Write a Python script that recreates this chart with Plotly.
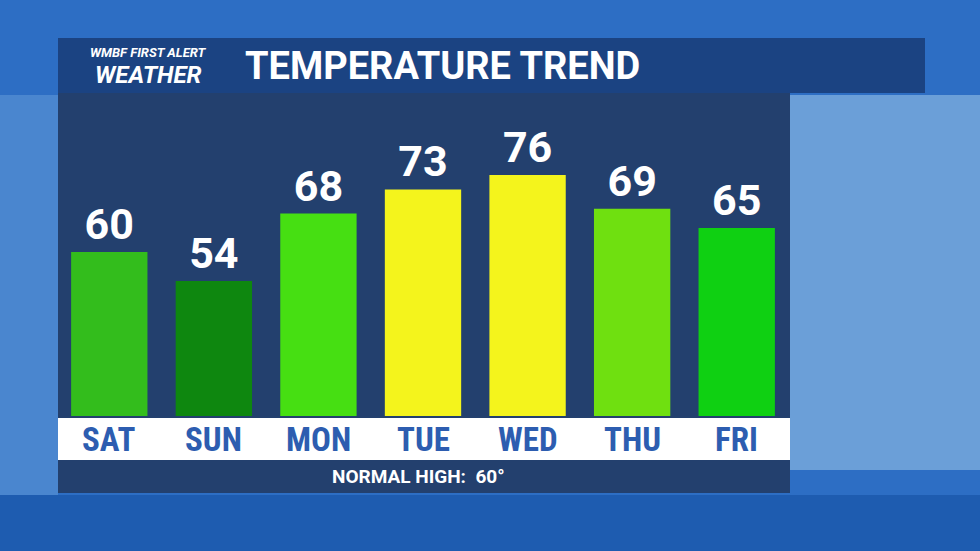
import plotly.graph_objects as go

days = ["SAT", "SUN", "MON", "TUE", "WED", "THU", "FRI"]
highs = [60, 54, 68, 73, 76, 69, 65]
bar_colors = ["#33bd1c", "#0e870f", "#46df12", "#f4f41c", "#f4f41c", "#6fe010", "#0fd012"]
normal_high = 60

W, H = 980, 551


def px_x(v):
    return v / W


def px_y(v):
    return 1 - v / H


fig = go.Figure()
fig.add_trace(go.Bar(
    x=days, y=highs, marker_color=bar_colors, marker_line_width=0, width=0.73,
    text=[f"<b>{v}</b>" for v in highs], textposition="outside", cliponaxis=False,
    textfont=dict(family="Roboto", size=43, color="white"),
))

shapes = [
    # background panels
    dict(type="rect", xref="paper", yref="paper", x0=0, x1=1, y0=0, y1=1,
         fillcolor="#2d6ec4", line_width=0, layer="below"),
    dict(type="rect", xref="paper", yref="paper", x0=0, x1=1, y0=px_y(551), y1=px_y(495),
         fillcolor="#1e5cb0", line_width=0, layer="below"),
    dict(type="rect", xref="paper", yref="paper", x0=px_x(790), x1=1, y0=px_y(470), y1=px_y(95),
         fillcolor="#6b9fd8", line_width=0, layer="below"),
    dict(type="rect", xref="paper", yref="paper", x0=0, x1=px_x(58), y0=px_y(495), y1=px_y(95),
         fillcolor="#4a86cf", line_width=0, layer="below"),
    # header
    dict(type="rect", xref="paper", yref="paper", x0=px_x(58), x1=px_x(925), y0=px_y(93), y1=px_y(38),
         fillcolor="#1b4382", line_width=0, layer="below"),
    # chart panel
    dict(type="rect", xref="paper", yref="paper", x0=px_x(58), x1=px_x(790), y0=px_y(493), y1=px_y(93),
         fillcolor="#23406e", line_width=0, layer="below"),
    # day label strip
    dict(type="rect", xref="paper", yref="paper", x0=px_x(58), x1=px_x(790), y0=px_y(460), y1=px_y(418),
         fillcolor="white", line_width=0, layer="below"),
]

annotations = [
    dict(x=d, y=px_y(440), xref="x", yref="paper", text=f"<b>{d}</b>", showarrow=False,
         xanchor="center", yanchor="middle",
         font=dict(family="Roboto Condensed, Roboto", size=33, color="#2d5db0"))
    for d in days
]
annotations += [
    dict(x=px_x(148), y=px_y(52), xref="paper", yref="paper", text="<b><i>WMBF FIRST ALERT</i></b>",
         xanchor="center", yanchor="middle",
         showarrow=False, font=dict(family="Roboto", size=13, color="white")),
    dict(x=px_x(148), y=px_y(75), xref="paper", yref="paper", text="<b><i>WEATHER</i></b>",
         xanchor="center", yanchor="middle",
         showarrow=False, font=dict(family="Roboto", size=24, color="white")),
    dict(x=px_x(243), y=px_y(66), xref="paper", yref="paper", xanchor="left", yanchor="middle",
         text="<b>TEMPERATURE TREND</b>",
         showarrow=False, font=dict(family="Roboto", size=38, color="white")),
    dict(x=px_x(418), y=px_y(476), xref="paper", yref="paper", text=f"<b>NORMAL HIGH:  {normal_high}°</b>",
         xanchor="center", yanchor="middle",
         showarrow=False, font=dict(family="Roboto", size=19, color="white")),
]

fig.update_layout(
    width=W, height=H, margin=dict(l=0, r=0, t=0, b=0),
    paper_bgcolor="#2d6ec4", plot_bgcolor="rgba(0,0,0,0)",
    shapes=shapes, annotations=annotations, showlegend=False,
    xaxis=dict(domain=[px_x(57), px_x(789)], range=[-0.5, 6.5], showticklabels=False,
               showgrid=False, zeroline=False),
    yaxis=dict(domain=[px_y(416), px_y(93)], range=[26, 93], showticklabels=False,
               showgrid=False, zeroline=False),
)

fig.write_html("out.html", config={"displayModeBar": False},
               post_script="document.body.style.margin='0';")
